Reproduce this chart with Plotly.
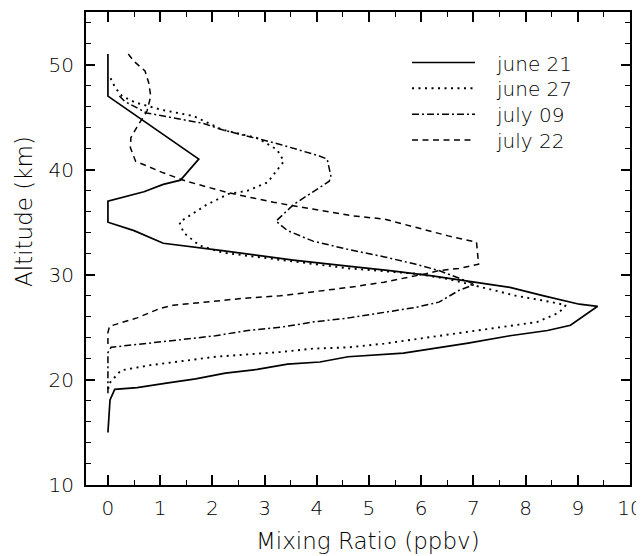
import plotly.graph_objects as go

# ---------------- data ----------------
series_names = ["june 21", "june 27", "july 09", "july 22"]

june21_alt = [51, 47, 41, 39, 38.6, 37.9, 37, 35, 34.2, 33, 32.3, 31.4, 30.8, 30.4, 29.9, 29.3,
              28.8, 28.0, 27.2, 27.0, 25.2, 24.7, 24.2, 23.5, 23.0, 22.55, 22.2, 21.7, 21.5,
              21.0, 20.65, 20.1, 19.7, 19.27, 19.1, 18.1, 15]
june21_mr = [0, 0, 1.74, 1.39, 1.06, 0.69, 0, 0, 0.5, 1.06, 2.19, 3.55, 4.64, 5.4, 6.21, 7.03,
             7.7, 8.35, 9.03, 9.38, 8.86, 8.42, 7.7, 6.9, 6.21, 5.66, 4.6, 4.06, 3.44,
             2.86, 2.25, 1.68, 1.12, 0.56, 0.13, 0.04, 0]

june27_alt = [48.7, 47.8, 47.0, 46.4, 45.7, 45.1, 43.8, 43.0, 41.9, 40.8, 38.8, 38.0, 37.7, 36.6,
              35.0, 34.0, 32.8, 32.1, 30.6, 30.1, 29.6, 28.8, 28.0, 27.4, 27.1, 26.4, 25.5,
              25.0, 24.55, 24.1, 23.45, 23.1, 22.97, 22.65, 22.4, 22.2, 21.8, 21.4, 20.9,
              20.3, 19.7, 19.0]
june27_mr = [0.05, 0.14, 0.27, 0.52, 1.02, 1.64, 2.19, 2.87, 3.24, 3.37, 3.06, 2.68, 2.31, 1.87,
             1.37, 1.45, 1.75, 2.2, 4.63, 5.9, 6.52, 7.16, 7.82, 8.5, 8.77, 8.64, 8.22,
             7.5, 6.83, 6.21, 5.29, 4.62, 3.92, 3.3, 2.68, 2.06, 1.44, 0.81, 0.25,
             0.13, 0.03, 0]

july09_alt = [47.0, 46.5, 45.4, 44.9, 44.4, 43.8, 43.2, 42.4, 41.3, 41.0, 39.4, 38.9, 37.7, 36.7,
              35.1, 34.2, 33.2, 32.45, 31.7, 31.0, 30.4, 29.1, 28.5, 27.4, 26.9, 26.4, 25.9,
              25.5, 25.0, 24.7, 24.2, 23.85, 23.45, 23.1, 22.6, 18.5]
july09_mr = [0.22, 0.32, 0.74, 1.27, 1.83, 2.19, 2.69, 3.3, 4.05, 4.2, 4.27, 4.24, 3.87, 3.56,
             3.22, 3.44, 3.93, 4.57, 5.3, 5.9, 6.34, 7.03, 6.72, 6.34, 5.9, 5.3, 4.62,
             3.92, 3.3, 2.68, 2.06, 1.44, 0.69, 0.06, 0, 0]

july22_alt = [51, 50.3, 49.4, 48.3, 47.0, 45.6, 44.0, 43.05, 42.1, 40.8, 39.7, 38.9, 37.8, 36.9,
              36.25, 35.6, 35.3, 34.5, 33.7, 33.1, 31.0, 30.6, 30.4, 30.1, 29.8, 29.3, 28.8,
              28.4, 28.0, 27.8, 27.5, 27.1, 26.8, 25.9, 25.1, 24.5, 23]
july22_mr = [0.39, 0.5, 0.71, 0.78, 0.82, 0.75, 0.55, 0.44, 0.43, 0.53, 1.06, 1.5, 2.31, 3.17,
             3.92, 4.7, 5.29, 5.91, 6.52, 7.06, 7.1, 6.72, 6.34, 6.09, 5.77, 5.29, 4.62,
             3.92, 3.3, 2.68, 2.06, 1.25, 1.0, 0.56, 0.03, 0, 0]

x_tick_vals = [0, 1, 2, 3, 4, 5, 6, 7, 8, 9, 10]
y_tick_vals = [10, 20, 30, 40, 50]

# ---------------- styling ----------------
FONT = "DejaVu Sans"
FW = 200
dash_styles = ["solid", "2px,4.5px", "7px,3px,2px,3px", "6px,4.5px"]
line_widths = [1.7, 1.9, 1.5, 1.5]

mr_list = [june21_mr, june27_mr, july09_mr, july22_mr]
alt_list = [june21_alt, june27_alt, july09_alt, july22_alt]

fig = go.Figure()
for name, xs, ys, dash, lw in zip(series_names, mr_list, alt_list, dash_styles, line_widths):
    fig.add_trace(go.Scatter(x=xs, y=ys, mode="lines", name=name, showlegend=False,
                             line=dict(color="black", width=lw, dash=dash)))

# page geometry: the page body has an 8px margin, so the figure is placed at (8, 8)
OFF = 8
W, H = 644 - OFF, 556 - OFF
# target plot-area edges in page pixels
PL, PR, PT, PB = 86, 630, 12, 485
L, R, T, B = PL - OFF, W - (PR - OFF), PT - OFF, H - (PB - OFF)
pw, ph = W - L - R, H - T - B


def px2paper(px, py):
    # page pixel -> paper coordinate
    return (px - PL) / pw, (PB - py) / ph


# custom legend (line samples + labels)
legend_rows_py = [62.5, 88.3, 114.2, 140.0]
shapes = []
annotations = []
for name, dash, lw, py in zip(series_names, dash_styles, line_widths, legend_rows_py):
    x0, y0 = px2paper(412, py)
    x1, _ = px2paper(475, py)
    shapes.append(dict(type="line", xref="paper", yref="paper", x0=x0, x1=x1, y0=y0, y1=y0,
                       line=dict(color="black", width=lw, dash=dash)))
    tx, ty = px2paper(494, py + 1)
    annotations.append(dict(text=name, xref="paper", yref="paper", x=tx, y=ty,
                            xanchor="left", yanchor="middle", showarrow=False,
                            font=dict(family=FONT, size=20, color="black", weight=FW)))

# axis titles
tx, ty = px2paper(368, 541)
annotations.append(dict(text="Mixing Ratio (ppbv)", xref="paper", yref="paper", x=tx, y=ty,
                        xanchor="center", yanchor="middle", showarrow=False,
                        font=dict(family=FONT, size=23, color="black", weight=FW)))
tx, ty = px2paper(24, 212)
annotations.append(dict(text="Altitude (km)", xref="paper", yref="paper", x=tx, y=ty,
                        xanchor="center", yanchor="middle", showarrow=False, textangle=-90,
                        font=dict(family=FONT, size=23, color="black", weight=FW)))

axis_common = dict(showline=True, linecolor="black", linewidth=2, mirror="ticks",
                   ticks="inside", tickcolor="black", tickwidth=1.5,
                   showgrid=False, zeroline=False, automargin=False,
                   tickfont=dict(family=FONT, size=20, color="black", weight=FW))

fig.update_layout(
    width=W, height=H,
    margin=dict(l=L, r=R, t=T, b=B, pad=0),
    paper_bgcolor="white", plot_bgcolor="white",
    showlegend=False,
    shapes=shapes,
    annotations=annotations,
    xaxis=dict(range=[-0.42, 10], tickvals=x_tick_vals, ticklen=10,
               minor=dict(dtick=0.5, tick0=0, ticklen=5, ticks="inside", tickcolor="black", tickwidth=1.3),
               ticklabelstandoff=4, **axis_common),
    yaxis=dict(range=[10, 55], tickvals=y_tick_vals, ticklen=9,
               minor=dict(dtick=2, tick0=10, ticklen=5, ticks="inside", tickcolor="black", tickwidth=1.3),
               ticklabelstandoff=6, **axis_common),
)

fig.write_html("out.html")
